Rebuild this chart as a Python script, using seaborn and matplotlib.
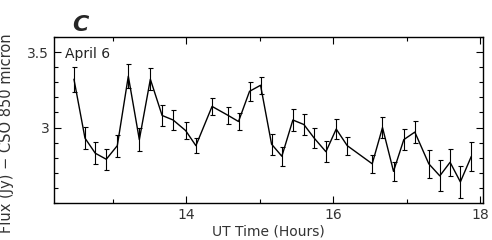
import numpy as np
import pandas as pd
import seaborn as sns
import matplotlib.pyplot as plt
from matplotlib.ticker import MultipleLocator

# UT time (hours), flux (Jy), 1-sigma error
ut_hours = [12.47, 12.62, 12.76, 12.91, 13.06, 13.21, 13.36, 13.51, 13.67, 13.82,
            13.99, 14.13, 14.35, 14.57, 14.71, 14.86, 15.01, 15.16, 15.30, 15.45,
            15.60, 15.74, 15.90, 16.04, 16.19, 16.53, 16.67, 16.82, 16.96, 17.11,
            17.30, 17.45, 17.59, 17.73, 17.88]
flux = [3.32, 2.93, 2.83, 2.79, 2.88, 3.34, 2.92, 3.32, 3.08, 3.05,
        2.98, 2.88, 3.14, 3.08, 3.04, 3.24, 3.28, 2.89, 2.81, 3.05,
        3.02, 2.93, 2.84, 2.99, 2.88, 2.76, 3.00, 2.71, 2.92, 2.97,
        2.76, 2.68, 2.77, 2.64, 2.81]
flux_err = [0.084, 0.071, 0.073, 0.068, 0.073, 0.080, 0.077, 0.073, 0.068, 0.067,
            0.055, 0.050, 0.055, 0.058, 0.059, 0.063, 0.055, 0.070, 0.064, 0.070,
            0.070, 0.066, 0.068, 0.064, 0.060, 0.058, 0.070, 0.065, 0.069, 0.075,
            0.093, 0.102, 0.091, 0.107, 0.095]

df = pd.DataFrame({"UT": ut_hours, "Flux": flux, "Err": flux_err})

sns.set_style("ticks")
plt.rcParams["font.family"] = ["DejaVu Sans"]

fig = plt.figure(figsize=(4.92, 2.4), dpi=100)
ax = fig.add_axes([0.11, 0.154, 0.872, 0.692])

sns.lineplot(data=df, x="UT", y="Flux", color="black", linewidth=1.0, ax=ax)
ax.errorbar(df["UT"], df["Flux"], yerr=df["Err"], fmt="none", ecolor="black",
            elinewidth=0.8, capsize=1.8, capthick=0.8)

ax.set_xlim(12.2, 18.04)
ax.set_ylim(2.5, 3.6)
ax.xaxis.set_major_locator(MultipleLocator(2))
ax.xaxis.set_minor_locator(MultipleLocator(1))
ax.yaxis.set_major_locator(MultipleLocator(0.5))
ax.yaxis.set_minor_locator(MultipleLocator(0.1))
ax.set_yticks([3, 3.5])
ax.set_yticklabels(["3", "3.5"])
ax.tick_params(which="both", direction="in", top=True, right=True,
               labelsize=10, color="black", labelcolor="#333333")
ax.tick_params(which="major", length=5, width=0.8)
ax.tick_params(which="minor", length=3, width=0.8)
for s in ax.spines.values():
    s.set_linewidth(1.0)
    s.set_color("black")

ax.set_xlabel("UT Time (Hours)", fontsize=10, color="#333333", labelpad=2)
ax.set_ylabel("Flux (Jy) \u2212 CSO 850 micron", fontsize=10.5, color="#333333")
ax.yaxis.set_label_coords(-0.093, 0.42)
ax.text(0.025, 0.9, "April 6", transform=ax.transAxes, fontsize=10,
        color="#222222", va="center")
fig.text(0.163, 0.895, "C", fontsize=16, fontweight="bold", fontstyle="italic",
         ha="center", va="center")

fig.savefig("out.png", dpi=100)
